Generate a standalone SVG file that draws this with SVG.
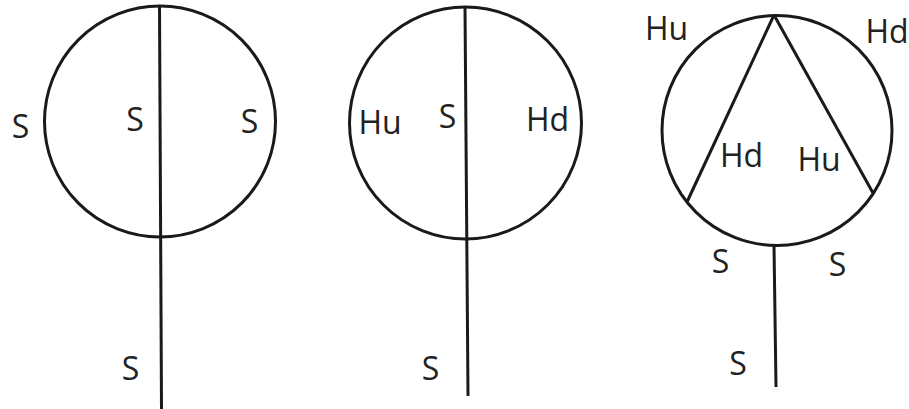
<svg xmlns="http://www.w3.org/2000/svg" width="909" height="409" viewBox="0 0 909 409">
<style>
.ln{fill:none;stroke:#1a1a1a;stroke-width:3;stroke-linecap:butt}
.lb{font-family:"Open Sans","Noto Sans","Liberation Sans",sans-serif;font-size:32px;fill:#222;text-anchor:middle}
</style>
<rect width="909" height="409" fill="#fff"/>
<g id="diagram1">
<circle class="ln" cx="160" cy="121.5" r="115.5"/>
<text class="lb" x="20.5" y="138">S</text>
<text class="lb" x="135" y="131">S</text>
<text class="lb" x="249.5" y="133">S</text>
<text class="lb" x="130.5" y="380">S</text>
</g>
<g id="diagram2">
<circle class="ln" cx="465.5" cy="123" r="116"/>
<text class="lb" x="380" y="134">Hu</text>
<text class="lb" x="447.5" y="128">S</text>
<text class="lb" x="547.5" y="131">Hd</text>
<text class="lb" x="430.5" y="380">S</text>
</g>
<g id="diagram3">
<circle class="ln" cx="777" cy="130.5" r="115"/>
<text class="lb" x="666.5" y="40">Hu</text>
<text class="lb" x="887" y="43">Hd</text>
<text class="lb" x="741.5" y="167">Hd</text>
<text class="lb" x="819" y="171">Hu</text>
<text class="lb" x="720.5" y="273">S</text>
<text class="lb" x="837.5" y="276">S</text>
<text class="lb" x="738" y="375">S</text>
</g>
<g id="connectors">
<line class="ln" x1="159.5" y1="6" x2="161.5" y2="409"/>
<line class="ln" x1="465" y1="7" x2="468" y2="396"/>
<line class="ln" x1="774" y1="15" x2="687" y2="202"/>
<line class="ln" x1="774" y1="15" x2="873" y2="193"/>
<line class="ln" x1="774" y1="245" x2="776" y2="387"/>
</g>
</svg>
